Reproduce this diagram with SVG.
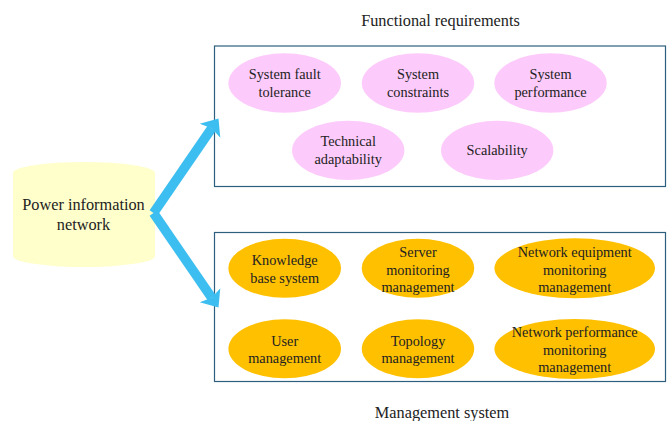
<svg xmlns="http://www.w3.org/2000/svg" width="672" height="421" viewBox="0 0 672 421">
<defs>
<style>
text{font-family:"Liberation Serif","Times New Roman",serif;fill:#222;text-anchor:middle}
.t{font-size:16.3px}
.e{font-size:14.3px}
.pink{fill:#FDCBFB}
.orange{fill:#FFC000}
.box{fill:#fff;stroke:#2E5F7E;stroke-width:1.2}
.arrow{stroke:#3DBEF0;stroke-width:9.5;fill:none;stroke-linecap:butt}
</style>
<marker id="head" markerUnits="userSpaceOnUse" markerWidth="18" markerHeight="28" viewBox="0 -14 18 28" refX="3" refY="0" orient="auto">
<path d="M0,-12.5 L15,0 L0,12.5 L3,0 Z" fill="#3DBEF0"/>
</marker>
</defs>
<rect width="672" height="421" fill="#fff"/>
<text class="t" x="440.5" y="25.5">Functional requirements</text>
<text class="t" x="442" y="418">Management system</text>
<g id="functional-box"><rect class="box" x="214.5" y="46" width="451" height="140.5"/></g>
<g id="management-box"><rect class="box" x="214.5" y="232.5" width="451" height="149"/></g>
<g id="power-network">
<path d="M13,173 A71,11 0 0 1 155,173 L155,256 A71,11 0 0 1 13,256 Z" fill="#FFFFCC"/>
<text class="t" x="83.5" y="210">Power information</text>
<text class="t" x="83.5" y="230">network</text>
</g>
<g id="connectors">
<line class="arrow" x1="153.5" y1="213" x2="211.7" y2="128.3" marker-end="url(#head)"/>
<line class="arrow" x1="153.5" y1="213" x2="211.7" y2="297.7" marker-end="url(#head)"/>
</g>
<g id="fault-tolerance"><ellipse class="pink" cx="284.7" cy="83" rx="56.3" ry="29.7"/><text class="e" x="284.7" y="79">System fault</text><text class="e" x="284.7" y="96.5">tolerance</text></g>
<g id="constraints"><ellipse class="pink" cx="418" cy="83" rx="56.2" ry="29.7"/><text class="e" x="418" y="79">System</text><text class="e" x="418" y="96.5">constraints</text></g>
<g id="performance"><ellipse class="pink" cx="550.5" cy="83" rx="56.2" ry="29.7"/><text class="e" x="550.5" y="79">System</text><text class="e" x="550.5" y="96.5">performance</text></g>
<g id="adaptability"><ellipse class="pink" cx="348.2" cy="150.4" rx="56.2" ry="29.7"/><text class="e" x="348.2" y="146">Technical</text><text class="e" x="348.2" y="163.5">adaptability</text></g>
<g id="scalability"><ellipse class="pink" cx="497.2" cy="150.4" rx="56.2" ry="29.7"/><text class="e" x="497.2" y="155">Scalability</text></g>
<g id="knowledge-base"><ellipse class="orange" cx="284.7" cy="268.3" rx="56.3" ry="29.5"/><text class="e" x="284.7" y="265">Knowledge</text><text class="e" x="284.7" y="282.5">base system</text></g>
<g id="server-monitoring"><ellipse class="orange" cx="418" cy="268.3" rx="56.2" ry="29.5"/><text class="e" x="418" y="257">Server</text><text class="e" x="418" y="274.5">monitoring</text><text class="e" x="418" y="292">management</text></g>
<g id="equipment-monitoring"><ellipse class="orange" cx="574.7" cy="268.3" rx="80.3" ry="30"/><text class="e" x="574.7" y="257">Network equipment</text><text class="e" x="574.7" y="274.5">monitoring</text><text class="e" x="574.7" y="292">management</text></g>
<g id="user-management"><ellipse class="orange" cx="284.7" cy="348.8" rx="56.3" ry="29.5"/><text class="e" x="284.7" y="346">User</text><text class="e" x="284.7" y="363">management</text></g>
<g id="topology-management"><ellipse class="orange" cx="418" cy="348.8" rx="56.2" ry="29.5"/><text class="e" x="418" y="346">Topology</text><text class="e" x="418" y="363">management</text></g>
<g id="performance-monitoring"><ellipse class="orange" cx="574.7" cy="349" rx="80.3" ry="30"/><text class="e" x="574.7" y="337">Network performance</text><text class="e" x="574.7" y="354.5">monitoring</text><text class="e" x="574.7" y="372">management</text></g>
</svg>
